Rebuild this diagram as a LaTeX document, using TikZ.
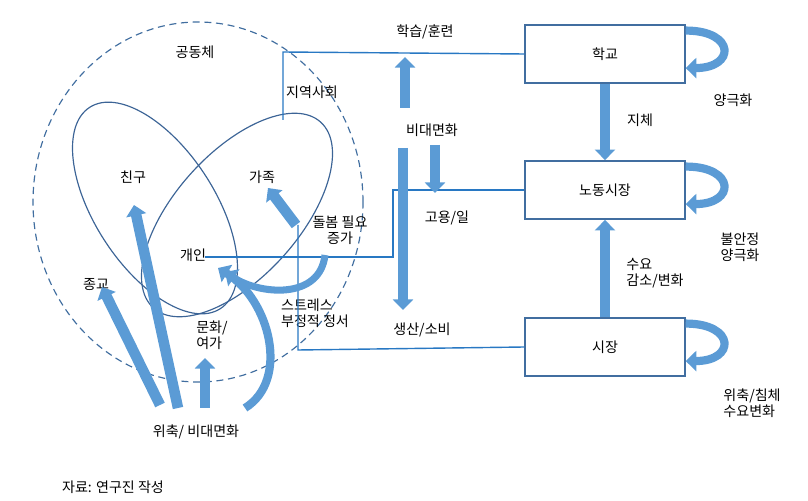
\documentclass[tikz,border=0pt]{standalone}
\usepackage{fontspec}
\setmainfont{Noto Sans CJK KR}
\usetikzlibrary{arrows.meta}

\begin{document}
\begin{tikzpicture}[x=0.03cm,y=0.03cm,font=\fontsize{12}{14}\selectfont,
    box/.style={draw=boxblue,line width=1.2pt,minimum width=4.8cm,minimum height=1.75cm,inner sep=0pt},
    ring/.style={draw=ringblue,line width=1pt},
    fat/.style={draw=arrowblue,line width=9pt,-{Triangle[width=17pt,length=9pt]}},
    link/.style={draw=linkblue,line width=1.2pt}]
        \definecolor{arrowblue}{RGB}{91,155,213}
        \definecolor{linkblue}{RGB}{40,120,195}
        \definecolor{boxblue}{RGB}{65,110,160}
        \definecolor{ringblue}{RGB}{60,100,150}
        \useasboundingbox (0,0) rectangle (808,500);

        % community
        \draw[dashed,line width=1pt,draw=boxblue,dash pattern=on 6pt off 4pt] (198,298) ellipse (165 and 180);
        \draw[ring,rotate around={-57:(155,292)}] (155,292) ellipse (120 and 60);
        \draw[ring,rotate around={48:(237,285)}] (237,285) ellipse (125 and 62);
        \node (gong) at (195,448) {공동체};
        \node (jiyeok) at (312,408) {지역사회};
        \node (chingu) at (133,323) {친구};
        \node (gajok) at (262,323) {가족};
        \node (gaein) at (193,245) {개인};
        \node (jonggyo) at (96,215) {종교};
        \node[align=left] (munhwa) at (212,165) {문화/\\여가};
        \node[align=center] (dolbom) at (340,270) {돌봄 필요\\증가};
        \node[align=left] (stress) at (315,187) {스트레스\\부정적 정서};
        \node (wichuk) at (196,68) {위축/ 비대면화};

        % right boxes
        \node[box] (school) at (605,446) {학교};
        \node[box] (labor) at (605,310) {노동시장};
        \node[box] (market) at (605,153) {시장};
        \node (jiche) at (640,380) {지체};
        \node[align=left] (suyo) at (655,227) {수요\\감소/변화};
        \node (yang) at (733,400) {양극화};
        \node[align=left] (bulan) at (740,253) {불안정\\양극화};
        \node[align=left] (wichim) at (752,97) {위축/침체\\수요변화};

        % middle column
        \node (hakseup) at (425,468) {학습/훈련};
        \node (bidae) at (432,370) {비대면화};
        \node (goyong) at (447,282) {고용/일};
        \node (saengsan) at (422,170) {생산/소비};

        % links
        \draw[link] (283,380) -- (283,448) -- (school.west);
        \draw[link] (205,243) -- (393,243) -- (393,310) -- (labor.west);
        \draw[link] (298,275) -- (298,150) -- (market.west);

        % fat arrows
        \draw[fat] (160,95) -- (102,213);
        \draw[fat] (178,92) -- (134,295);
        \draw[fat] (205,92) -- (205,142);
        \draw[fat] (296,275) -- (268,312);
        \draw[fat,line width=7pt] (245,92) .. controls (290,120) and (270,200) .. (218,232);
        \draw[fat,line width=6pt] (325,245) .. controls (320,200) and (260,205) .. (225,228);
        \draw[fat] (405,392) -- (405,443);
        \draw[fat] (403,352) -- (403,190);
        \draw[fat] (435,355) -- (435,307);
        \draw[fat] (school.south) -- (labor.north);
        \draw[fat] (market.north) -- (labor.south);

        % self loops
        \foreach \b in {school,labor,market}
            \draw[fat,line width=7pt] ([yshift=20]\b.east) .. controls +(50,0) and +(50,0) .. ([yshift=-12]\b.east);

        \node (source) at (113,13) {자료: 연구진 작성};
    \end{tikzpicture}
\end{document}
